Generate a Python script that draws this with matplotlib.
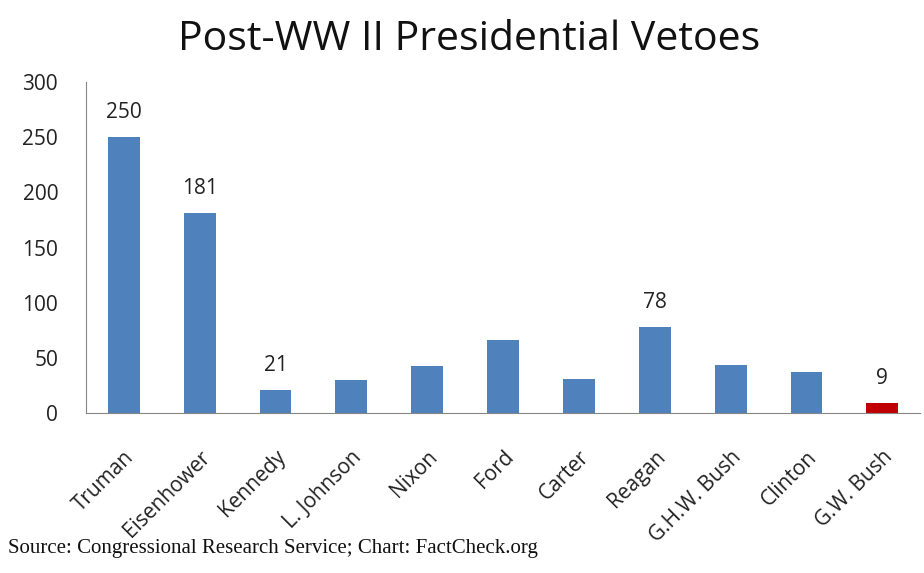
import matplotlib
matplotlib.use("Agg")
import matplotlib.pyplot as plt

presidents = ["Truman", "Eisenhower", "Kennedy", "L. Johnson", "Nixon", "Ford",
              "Carter", "Reagan", "G.H.W. Bush", "Clinton", "G.W. Bush"]
vetoes = [250, 181, 21, 30, 43, 66, 31, 78, 44, 37, 9]
show_label = [True, True, True, False, False, False, False, True, False, False, True]
yticks = [0, 50, 100, 150, 200, 250, 300]

colors = ["#4F81BD"] * (len(presidents) - 1) + ["#C00000"]

fig = plt.figure(figsize=(9.24, 5.73), dpi=100)
ax = fig.add_axes([0.093, 0.279, 0.903, 0.578])

x = range(len(presidents))
ax.bar(x, vetoes, width=0.42, color=colors)

#Value labels only on some bars
for i, v in enumerate(vetoes):
    if show_label[i]:
        ax.annotate(str(v), (i, v), xytext=(0, 10), textcoords="offset points",
                    ha="center", va="bottom", fontsize=15,
                    family="Open Sans", color="#222222")

ax.set_xlim(-0.5, len(presidents) - 0.5)
ax.set_ylim(0, 300)
ax.set_yticks(yticks)
ax.set_xticks(list(x))
ax.set_xticklabels(presidents, rotation=45, ha="right", rotation_mode="anchor",
                   fontsize=15, family="Open Sans")
for lab in ax.get_yticklabels():
    lab.set_family("Open Sans")
    lab.set_fontsize(15)
ax.tick_params(axis="both", length=0, colors="#222222")
ax.tick_params(axis="y", pad=20)
ax.tick_params(axis="x", pad=24)

for s in ["top", "right"]:
    ax.spines[s].set_visible(False)
ax.spines["left"].set_color("#868686")
ax.spines["bottom"].set_color("#868686")

fig.text(0.508, 0.93, "Post-WW II Presidential Vetoes", ha="center", va="center",
         fontsize=29.5, family="Open Sans", color="#111111")
fig.text(0.009, 0.043, "Source: Congressional Research Service; Chart: FactCheck.org",
         ha="left", va="center", fontsize=15, family="Liberation Serif", color="#111111")

fig.savefig("out.png", dpi=100)
